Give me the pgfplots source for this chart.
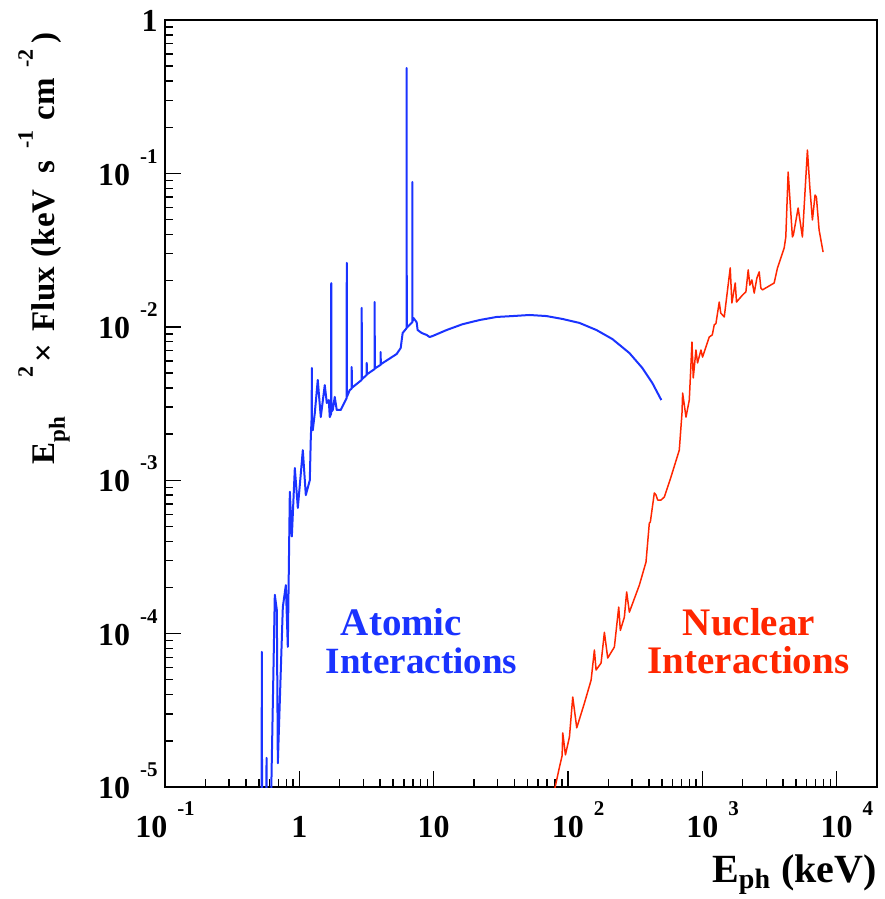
\documentclass[border=0pt]{standalone}
\usepackage{fontspec}
\setmainfont{Liberation Serif}
\usepackage{amsmath}
\usepackage{pgfplots}
\pgfplotsset{compat=1.18}

\definecolor{atomblue}{RGB}{26,51,255}
\definecolor{nucred}{RGB}{255,38,0}

% ROOT-style power labels: "10" with a detached raised exponent
\newcommand{\supfont}{\fontsize{10.5}{10.5}\selectfont\bfseries}
\newcommand{\tp}[1]{\textbf{10}\hspace{5pt}\raisebox{11pt}{\supfont #1}}
\newcommand{\tq}[1]{\textbf{10}\rlap{\hspace{5pt}\raisebox{11pt}{\supfont #1}}}
\newcommand{\lsup}[1]{\raisebox{11pt}{\fontsize{11}{11}\selectfont #1}}

\begin{document}
\begin{tikzpicture}
\path[use as bounding box] (-82.5pt,-56pt) rectangle (359.5pt,393.5pt);
\begin{axis}[
  at={(0pt,0pt)}, anchor=south west,
  scale only axis, width=356pt, height=383.5pt,
  xmode=log, ymode=log,
  xmin=0.1, xmax=20000, ymin=1e-5, ymax=1,
  axis line style={line width=1pt, black},
  every tick/.style={black, line width=0.7pt},
  major tick length=8pt, minor tick length=4pt,
  xtick pos=bottom, ytick pos=left,
  xtick={0.1,1,10,100,1000,10000},
  xticklabels={\tp{-1},\textbf{1},\textbf{10},\tq{2},\tq{3},\tq{4}},
  minor xtick={0.2,0.3,0.4,0.5,0.6,0.7,0.8,0.9,2,3,4,5,6,7,8,9,20,30,40,50,60,70,80,90,200,300,400,500,600,700,800,900,2000,3000,4000,5000,6000,7000,8000,9000},
  ytick={1e-5,1e-4,1e-3,1e-2,1e-1,1},
  yticklabels={\tp{-5},\tp{-4},\tp{-3},\tp{-2},\tp{-1},\textbf{1}\hspace{12.5pt}},
  minor ytick={2e-5,3e-5,4e-5,5e-5,6e-5,7e-5,8e-5,9e-5,2e-4,3e-4,4e-4,5e-4,6e-4,7e-4,8e-4,9e-4,2e-3,3e-3,4e-3,5e-3,6e-3,7e-3,8e-3,9e-3,0.02,0.03,0.04,0.05,0.06,0.07,0.08,0.09,0.2,0.3,0.4,0.5,0.6,0.7,0.8,0.9},
  ticklabel style={font=\fontsize{16}{16}\selectfont\bfseries, inner sep=0pt},
  xticklabel style={anchor=base, yshift=-25pt},
  yticklabel style={anchor=base east, xshift=-3.5pt, yshift=-5.8pt},
  clip=true,
]
% atomic (line) emission
\addplot[atomblue, line width=1pt, line join=round] coordinates {
(0.522,1e-6) (0.526,7.6e-5) (0.530,1e-6) (0.565,1e-6) (0.570,1.55e-5) (0.575,1e-6)
(0.590,1e-6) (0.657,1.79e-4) (0.680,1.43e-4) (0.692,1.43e-5) (0.754,1.49e-4)
(0.794,2.07e-4) (0.821,8.2e-5) (0.850,8.4e-4) (0.880,4.3e-4) (0.926,1.20e-3)
(0.975,6.6e-4) (1.062,1.57e-3) (1.118,8.0e-4) (1.197,1.0e-3) (1.218,1.91e-3)
(1.236,2.6e-3) (1.239,5.39e-3) (1.242,2.3e-3) (1.260,2.12e-3) (1.304,2.74e-3)
(1.372,4.50e-3) (1.445,2.58e-3) (1.547,4.17e-3) (1.602,3.19e-3) (1.657,3.33e-3)
(1.686,2.58e-3) (1.722,2.7e-3) (1.729,1.93e-2) (1.736,2.8e-3) (1.775,2.87e-3)
(1.836,3.49e-3) (1.900,2.87e-3) (2.035,2.87e-3) (2.180,3.24e-3) (2.250,3.43e-3)
(2.256,2.61e-2) (2.262,3.5e-3) (2.375,3.87e-3) (2.450,3.95e-3) (2.456,5.47e-3)
(2.462,4.0e-3) (2.908,4.5e-3) (2.915,1.33e-2) (2.922,4.55e-3) (3.170,4.85e-3)
(3.177,5.81e-3) (3.184,4.9e-3) (3.634,5.3e-3) (3.641,1.45e-2) (3.648,5.35e-3)
(4.030,5.65e-3) (4.036,6.85e-3) (4.042,5.7e-3) (5.309,6.65e-3) (5.684,7.27e-3)
(5.882,9.12e-3) (6.29,9.8e-3) (6.30,0.486) (6.31,9.85e-3) (6.862,1.06e-2)
(6.935,1.07e-2) (6.945,8.8e-2) (6.955,1.08e-2) (7.10,1.14e-2) (7.476,1.07e-2)
(7.60,9.53e-3) (8.14,9.12e-3) (8.87,8.85e-3) (9.34,8.58e-3) (9.83,8.71e-3)
(12.50,9.53e-3) (16.43,1.04e-2) (21.98,1.107e-2) (29.40,1.159e-2) (38.69,1.175e-2)
(51.74,1.194e-2) (69.21,1.175e-2) (91.0,1.125e-2) (121.8,1.06e-2) (162.9,9.53e-3)
(214.2,8.32e-3) (286.6,6.75e-3) (358.0,5.39e-3) (425.0,4.30e-3) (495.8,3.33e-3)
};
% nuclear (de-excitation) emission
\addplot[nucred, line width=0.75pt, line join=round] coordinates {
(76,8e-6) (86.5,1.35e-5) (90.5,1.6e-5) (91.5,2.25e-5) (95.8,1.62e-5) (102.6,2.12e-5)
(108.6,3.86e-5) (116.3,2.43e-5) (132.7,3.53e-5) (148.8,4.98e-5) (157.4,7.82e-5)
(162.0,5.79e-5) (176.5,6.43e-5) (186.8,1.02e-4) (197.8,6.93e-5) (221.7,8.18e-5)
(238.8,1.49e-4) (245.6,1.05e-4) (263.1,1.28e-4) (273.6,1.87e-4) (286.6,1.38e-4)
(340.1,2.07e-4) (381.3,2.93e-4) (403.6,5.26e-4) (410.6,5.34e-4) (439.7,8.26e-4)
(452.7,8.01e-4) (465.5,7.43e-4) (493.2,7.43e-4) (521.9,7.77e-4) (584.9,1.05e-3)
(674.5,1.57e-3) (706.5,2.74e-3) (714.5,3.70e-3) (756.8,2.58e-3) (800.7,3.33e-3)
(838.6,7.96e-3) (857.0,4.64e-3) (897.5,7.06e-3) (922.6,5.81e-3) (977.9,7.06e-3)
(1005,6.35e-3) (1127,8.58e-3) (1187,8.85e-3) (1228,1.03e-2) (1264,1.05e-2)
(1338,1.45e-2) (1373,1.23e-2) (1458,1.159e-2) (1615,2.42e-2) (1662,1.43e-2)
(1760,1.93e-2) (1799,1.45e-2) (1993,1.61e-2) (2113,1.69e-2) (2198,2.35e-2)
(2262,1.87e-2) (2341,2.02e-2) (2436,1.66e-2) (2551,2.08e-2) (2654,2.28e-2)
(2731,1.79e-2) (2806,1.74e-2) (3430,1.93e-2) (3631,2.42e-2) (4072,3.26e-2)
(4188,3.85e-2) (4360,0.102) (4690,3.85e-2) (4768,3.97e-2) (5174,5.95e-2)
(5568,3.85e-2) (6067,0.142) (6321,8.15e-2) (6609,4.97e-2) (6918,7.23e-2)
(7077,7.02e-2) (7413,4.28e-2) (7937,3.07e-2)
};
\end{axis}
% axis titles
\node[rotate=90, anchor=base west, inner sep=0pt, font=\fontsize{16.5}{16.5}\selectfont\bfseries]
  at (-55pt,161pt) {E\raisebox{-5pt}{\fontsize{11.5}{11.5}\selectfont ph}\hspace{20pt}\lsup{2}\hspace{2pt}×\hspace{6pt}Flux\hspace{5pt}(keV\hspace{8pt}s\hspace{6pt}\lsup{-1}\hspace{5pt}cm\hspace{5pt}\lsup{-2}\hspace{3pt})};
\node[anchor=base east, inner sep=0pt, font=\fontsize{20}{20}\selectfont\bfseries]
  at (356pt,-47.5pt) {E$_{\text{ph}}$ (keV)};
% curve annotations
\node[anchor=base, inner sep=0pt, text=atomblue, font=\fontsize{19.5}{19.5}\selectfont\bfseries]
  at (118.25pt,75.5pt) {Atomic};
\node[anchor=base, inner sep=0pt, text=atomblue, font=\fontsize{18.5}{18.5}\selectfont\bfseries]
  at (128.25pt,56.5pt) {Interactions};
\node[anchor=base, inner sep=0pt, text=nucred, font=\fontsize{19.5}{19.5}\selectfont\bfseries]
  at (292pt,75.5pt) {Nuclear};
\node[anchor=base, inner sep=0pt, text=nucred, font=\fontsize{19.5}{19.5}\selectfont\bfseries]
  at (291.75pt,56.5pt) {Interactions};
\end{tikzpicture}
\end{document}
